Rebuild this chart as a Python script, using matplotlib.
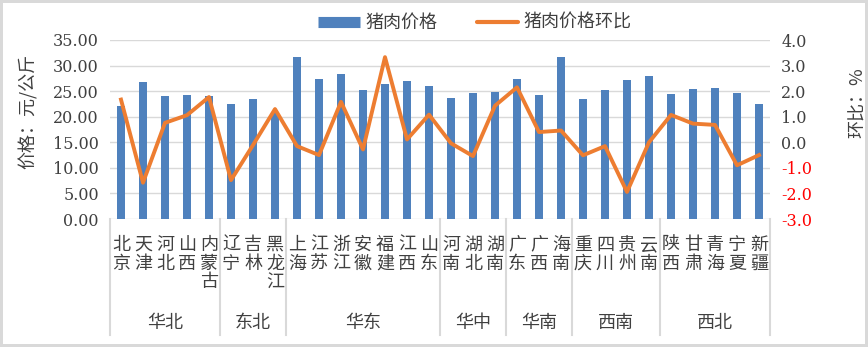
import numpy as np
import matplotlib.pyplot as plt
from matplotlib.lines import Line2D
import matplotlib.transforms as mtransforms

plt.rcParams['font.family'] = ['Noto Sans CJK SC', 'DejaVu Sans']

provinces = ['北京', '天津', '河北', '山西', '内蒙古',
             '辽宁', '吉林', '黑龙江',
             '上海', '江苏', '浙江', '安徽', '福建', '江西', '山东',
             '河南', '湖北', '湖南',
             '广东', '广西', '海南',
             '重庆', '四川', '贵州', '云南',
             '陕西', '甘肃', '青海', '宁夏', '新疆']
regions = ['华北', '东北', '华东', '华中', '华南', '西南', '西北']
region_sizes = [5, 3, 7, 3, 3, 4, 5]

price = [22.0, 26.7, 24.0, 24.2, 24.0,
         22.5, 23.4, 21.0,
         31.6, 27.3, 28.4, 25.3, 26.3, 26.9, 26.1,
         23.7, 24.7, 24.9,
         27.4, 24.3, 31.7,
         23.4, 25.3, 27.2, 28.0,
         24.5, 25.5, 25.7, 24.7, 22.4]
mom = [1.67, -1.58, 0.76, 1.06, 1.77,
       -1.48, -0.11, 1.30,
       -0.15, -0.50, 1.58, -0.28, 3.33, 0.11, 1.08,
       -0.04, -0.54, 1.43,
       2.15, 0.40, 0.46,
       -0.51, -0.15, -1.94, 0.00,
       1.07, 0.73, 0.68, -0.90, -0.50]

blue = '#4f81bd'
orange = '#ed7d31'
grid_c = '#d9d9d9'
txt_c = '#404040'

fig = plt.figure(figsize=(8.68, 3.47), dpi=100)
fig.patch.set_edgecolor(grid_c)
fig.patch.set_linewidth(3)

ax = fig.add_axes([110 / 868, 1 - 219 / 347, 660 / 868, 179 / 347])
ax2 = ax.twinx()

x = np.arange(len(provinces))
ax.bar(x, price, width=0.33, color=blue, zorder=2)
ax2.plot(x, mom, color=orange, lw=2.8, zorder=3)

ax.set_xlim(-0.5, len(provinces) - 0.5)
ax.set_ylim(0, 35)
ax2.set_ylim(-3, 4)
ax.set_yticks(np.arange(0, 36, 5))
ax.set_yticklabels(['%.2f' % v for v in np.arange(0, 36, 5)],
                   family='DejaVu Serif', fontsize=11.5, color=txt_c)
rt = np.arange(-3, 5, 1)
ax2.set_yticks(rt)
ax2.set_yticklabels(['%.1f' % v for v in rt], family='DejaVu Serif', fontsize=11.5)
for lab, v in zip(ax2.get_yticklabels(), rt):
    lab.set_color('red' if v < 0 else txt_c)

ax.grid(axis='y', color=grid_c, lw=1, zorder=0)
ax.set_xticks([])
ax.tick_params(length=0, pad=8)
ax2.tick_params(length=0, pad=8)
for a in (ax, ax2):
    for s in a.spines.values():
        s.set_visible(False)

ax.set_ylabel('价格：元/公斤', fontsize=13, color=txt_c)
ax.yaxis.set_label_coords(-0.11, 0.6)
ax2.set_ylabel('环比：%', fontsize=13, color=txt_c, rotation=90)
ax2.yaxis.set_label_coords(1.12, 0.65)

# category axis below the plot
trans = mtransforms.blended_transform_factory(ax.transData, ax.transAxes)
for i, name in enumerate(provinces):
    ax.text(i, -0.095, '\n'.join(name), transform=trans, ha='center', va='top',
            fontsize=13, color=txt_c, linespacing=1.05)

edges = np.concatenate([[0], np.cumsum(region_sizes)]) - 0.5
for e in edges:
    ax.plot([e, e], [0, -0.65], transform=trans, color=grid_c, lw=1.5, clip_on=False)
for r, a, b in zip(regions, edges[:-1], edges[1:]):
    ax.text((a + b) / 2, -0.58, r, transform=trans, ha='center', va='center',
            fontsize=13, color=txt_c)

handles = [Line2D([], [], color=blue, lw=8, solid_capstyle='butt'),
           Line2D([], [], color=orange, lw=3, solid_capstyle='round')]
fig.legend(handles, ['猪肉价格', '猪肉价格环比'], loc='center', ncol=2,
           bbox_to_anchor=(475 / 868, 1 - 23 / 347), frameon=False, fontsize=13,
           handlelength=2.3, columnspacing=2.2, handletextpad=0.3,
           labelcolor=txt_c)

fig.savefig('out.png', dpi=100)
